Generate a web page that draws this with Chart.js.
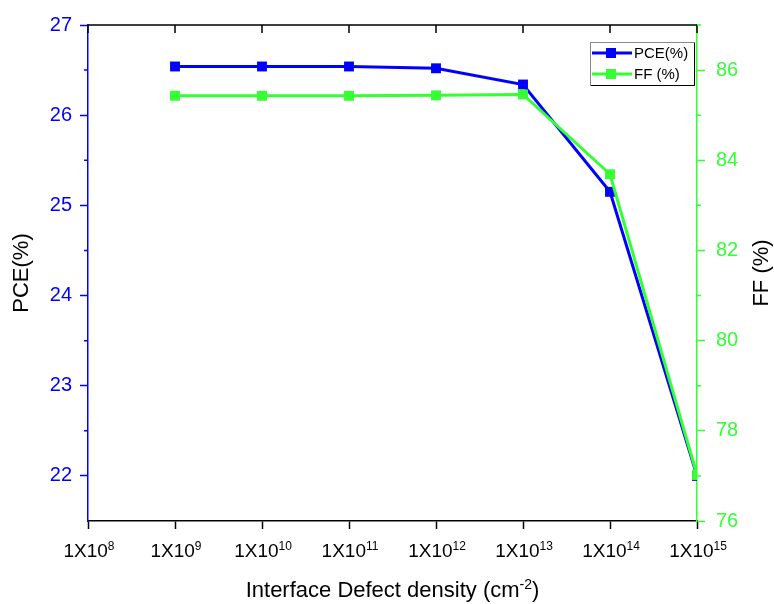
<!DOCTYPE html>
<html>
<head>
<meta charset="utf-8">
<script src="https://cdn.jsdelivr.net/npm/chart.js@4.4.1/dist/chart.umd.min.js"></script>
<style>
  html, body { margin: 0; padding: 0; background: #fff; }
  #wrap { width: 774px; height: 604px; }
</style>
</head>
<body>
<div id="wrap"><canvas id="chart" width="774" height="604"></canvas></div>
<script>
// Interface defect density sweep: PCE and FF
const exponents = [9, 10, 11, 12, 13, 14, 15];
const pceValues = [26.54, 26.54, 26.54, 26.52, 26.34, 25.15, 22.00];
const ffValues = [85.43, 85.43, 85.43, 85.44, 85.46, 83.69, 77.02];
const xTickExponents = [8, 9, 10, 11, 12, 13, 14, 15];
const pceTicks = [22, 23, 24, 25, 26, 27];
const ffTicks = [76, 78, 80, 82, 84, 86];

const BLUE = '#0000ff';
const GREEN = '#33ff33';
const FONT = "'Liberation Sans', Arial, sans-serif";

// draws "base" followed by a raised, smaller "exp", centred on cx
function drawSup(ctx, base, exp, tail, cx, baseline, size, supSize) {
    ctx.font = size + 'px ' + FONT;
    const wb = ctx.measureText(base).width;
    const wt = tail ? ctx.measureText(tail).width : 0;
    ctx.font = supSize + 'px ' + FONT;
    const we = ctx.measureText(exp).width;
    let x = cx - (wb + we + wt) / 2;
    ctx.textAlign = 'left';
    ctx.textBaseline = 'alphabetic';
    ctx.font = size + 'px ' + FONT;
    ctx.fillText(base, x, baseline);
    x += wb;
    ctx.font = supSize + 'px ' + FONT;
    ctx.fillText(exp, x, baseline - size * 0.38);
    x += we;
    if (tail) {
        ctx.font = size + 'px ' + FONT;
        ctx.fillText(tail, x, baseline);
    }
}

// top frame line with inward ticks, minor ticks, x labels and titles
const framePlugin = {
    id: 'frame',
    afterDraw(chart) {
        const ctx = chart.ctx;
        const area = chart.chartArea;
        const x = chart.scales.x;
        ctx.save();
        ctx.strokeStyle = '#000';
        ctx.lineWidth = 1.5;
        ctx.beginPath();
        ctx.moveTo(area.left, area.top);
        ctx.lineTo(area.right, area.top);
        xTickExponents.forEach(e => {
            const px = x.getPixelForValue(e);
            ctx.moveTo(px, area.top);
            ctx.lineTo(px, area.top + 8);
        });
        ctx.stroke();

        const yl = chart.scales.y;
        ctx.strokeStyle = BLUE;
        ctx.beginPath();
        for (let v = 22.5; v < 27; v += 1) {
            const py = yl.getPixelForValue(v);
            ctx.moveTo(area.left, py);
            ctx.lineTo(area.left - 4, py);
        }
        ctx.stroke();

        const yr = chart.scales.y1;
        ctx.strokeStyle = GREEN;
        ctx.beginPath();
        for (let v = 77; v <= 87; v += 2) {
            const py = yr.getPixelForValue(v);
            ctx.moveTo(area.right, py);
            ctx.lineTo(area.right + 4, py);
        }
        ctx.stroke();

        // x tick labels with superscript exponents
        ctx.fillStyle = '#000';
        xTickExponents.forEach(e => {
            drawSup(ctx, '1X10', String(e), '', x.getPixelForValue(e) + 1, 557, 19, 12);
        });

        // x axis title
        drawSup(ctx, 'Interface Defect density (cm', '-2', ')', (area.left + area.right) / 2, 597, 22, 14);

        // right axis title, reading bottom to top
        ctx.translate(762, (area.top + area.bottom) / 2);
        ctx.rotate(-Math.PI / 2);
        ctx.font = '22px ' + FONT;
        ctx.textAlign = 'center';
        ctx.textBaseline = 'middle';
        ctx.fillText('FF (%)', 0, 0);
        ctx.restore();
    }
};

// boxed legend in the upper right of the plot
const boxLegendPlugin = {
    id: 'boxLegend',
    afterDraw(chart) {
        const ctx = chart.ctx;
        const left = 590, top = 42, w = 104, h = 43, rowH = 21;
        ctx.save();
        ctx.fillStyle = '#fff';
        ctx.fillRect(left, top, w, h);
        ctx.strokeStyle = '#888';
        ctx.lineWidth = 1;
        ctx.strokeRect(left + 0.5, top + 0.5, w, h);
        ctx.strokeStyle = '#000';
        ctx.beginPath();
        ctx.moveTo(left + w + 0.5, top + 1);
        ctx.lineTo(left + w + 0.5, top + h + 0.5);
        ctx.lineTo(left + 1, top + h + 0.5);
        ctx.stroke();
        chart.data.datasets.forEach((ds, i) => {
            const cy = top + 11 + i * rowH;
            ctx.strokeStyle = ds.borderColor;
            ctx.lineWidth = 3;
            ctx.beginPath();
            ctx.moveTo(left + 2, cy);
            ctx.lineTo(left + 42, cy);
            ctx.stroke();
            ctx.fillStyle = ds.borderColor;
            ctx.fillRect(left + 16, cy - 5, 10, 10);
            ctx.fillStyle = '#000';
            ctx.font = '15px ' + FONT;
            ctx.textBaseline = 'middle';
            ctx.fillText(ds.label, left + 44, cy + 1);
        });
        ctx.restore();
    }
};

const ctx = document.getElementById('chart').getContext('2d');
new Chart(ctx, {
    type: 'line',
    data: {
        datasets: [
            {
                label: 'PCE(%)',
                data: exponents.map((e, i) => ({ x: e, y: pceValues[i] })),
                yAxisID: 'y',
                borderColor: BLUE,
                backgroundColor: BLUE,
                borderWidth: 3,
                pointStyle: 'rect',
                pointRadius: 7,
                pointBorderWidth: 0,
                order: 1
            },
            {
                label: 'FF (%)',
                data: exponents.map((e, i) => ({ x: e, y: ffValues[i] })),
                yAxisID: 'y1',
                borderColor: GREEN,
                backgroundColor: GREEN,
                borderWidth: 3,
                pointStyle: 'rect',
                pointRadius: 7,
                pointBorderWidth: 0,
                order: 0
            }
        ]
    },
    options: {
        responsive: false,
        animation: false,
        layout: { padding: { top: 25, left: 0, right: 0, bottom: 0 } },
        plugins: {
            legend: { display: false },
            tooltip: { enabled: false }
        },
        scales: {
            x: {
                type: 'linear',
                position: 'bottom',
                min: 8,
                max: 15,
                afterBuildTicks: s => { s.ticks = xTickExponents.map(v => ({ value: v })); },
                afterFit: s => { s.height = 83; },
                border: { color: '#000', width: 1.5 },
                grid: { drawOnChartArea: false, tickLength: 8, color: '#000', tickWidth: 1.5 },
                ticks: { display: false },
                title: { display: false }
            },
            y: {
                type: 'linear',
                position: 'left',
                min: 21.5,
                max: 27,
                afterBuildTicks: s => { s.ticks = pceTicks.map(v => ({ value: v })); },
                afterFit: s => { s.width = 88; },
                border: { color: BLUE, width: 1.5 },
                grid: { drawOnChartArea: false, tickLength: 8, color: BLUE, tickWidth: 1.5 },
                ticks: {
                    color: BLUE,
                    padding: 8,
                    font: { family: FONT, size: 20 }
                },
                title: {
                    display: true,
                    text: 'PCE(%)',
                    color: '#000',
                    font: { family: FONT, size: 22 },
                    padding: { top: 9, bottom: 0 }
                }
            },
            y1: {
                type: 'linear',
                position: 'right',
                min: 76,
                max: 87,
                afterBuildTicks: s => { s.ticks = ffTicks.map(v => ({ value: v })); },
                afterFit: s => { s.width = 77; },
                border: { color: GREEN, width: 1.5 },
                grid: { drawOnChartArea: false, tickLength: 8, color: GREEN, tickWidth: 1.5 },
                ticks: {
                    color: GREEN,
                    padding: 11,
                    font: { family: FONT, size: 20 }
                },
                title: { display: false }
            }
        }
    },
    plugins: [framePlugin, boxLegendPlugin]
});
</script>
</body>
</html>
